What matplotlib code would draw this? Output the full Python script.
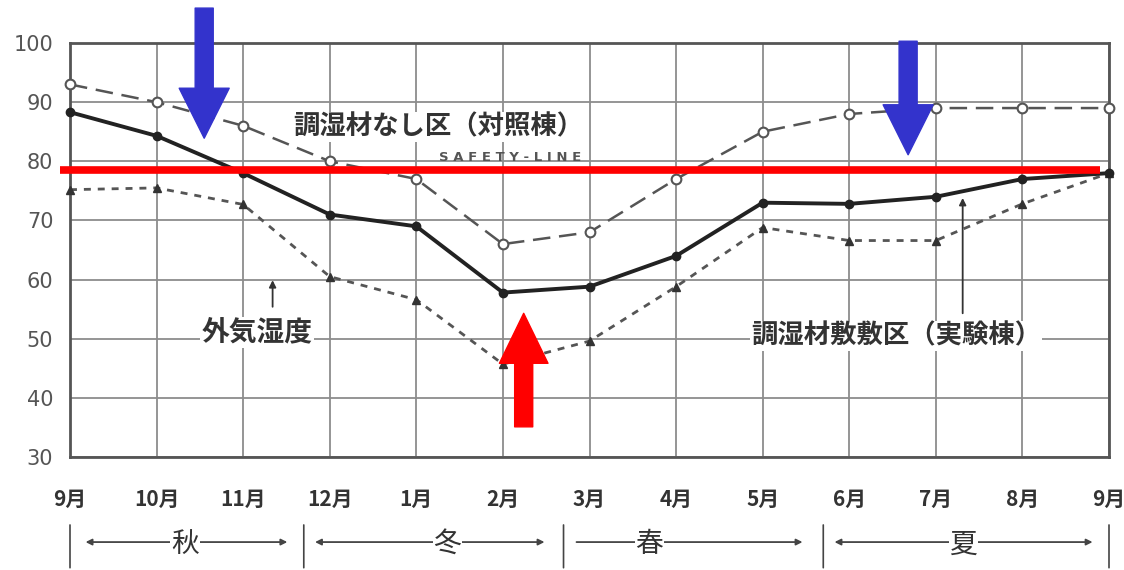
import numpy as np
import matplotlib.pyplot as plt
import matplotlib.transforms as mtransforms

# fuente japonesa primero, DejaVu como respaldo
plt.rcParams['font.family'] = ['Noto Sans CJK JP', 'DejaVu Sans']

# datos (humedad relativa %, de septiembre a septiembre)
meses = ['9月', '10月', '11月', '12月', '1月', '2月', '3月', '4月', '5月', '6月', '7月', '8月', '9月']
control = [93, 90, 86, 80, 77, 66, 68, 77, 85, 88, 89, 89, 89]              # 調湿材なし区（対照棟）
experimento = [88.3, 84.3, 78, 71, 69, 57.8, 58.8, 64, 73, 72.8, 74, 77, 78]  # 調湿材敷敷区（実験棟）
exterior = [75.2, 75.5, 72.7, 60.5, 56.6, 45.7, 49.6, 58.8, 68.8, 66.6, 66.6, 72.8, 78]  # 外気湿度
valores_y = [30, 40, 50, 60, 70, 80, 90, 100]
safety = 78.6
estaciones = ['秋', '冬', '春', '夏']

fig = plt.figure(figsize=(11.24, 5.70), dpi=100)
ax = fig.add_axes([70/1124, 1 - 457/570, (1109 - 70)/1124, (457 - 43)/570])
x = np.arange(len(meses))

ax.set_xlim(0, len(meses) - 1)
ax.set_ylim(valores_y[0], valores_y[-1])
ax.set_xticks(x)
ax.set_xticklabels(meses, fontsize=15, color='#333333', fontweight='bold')
ax.set_yticks(valores_y)
ax.set_yticklabels([str(v) for v in valores_y], fontsize=15, color='#555555',
                   family='DejaVu Sans')
ax.tick_params(axis='both', length=0)
ax.tick_params(axis='x', pad=23)
ax.tick_params(axis='y', pad=12)
ax.grid(True, color='#8c8c8c', lw=1.3)
ax.set_axisbelow(True)
for s in ax.spines.values():
    s.set_color('#555555')
    s.set_linewidth(2)

# las tres curvas
ax.plot(x, control, color='#555555', lw=1.8, ls=(0, (7, 3.5)), marker='o', ms=7,
        mfc='white', mec='#555555', mew=1.5, clip_on=False, zorder=3)
ax.plot(x, experimento, color='#222222', lw=2.8, marker='o', ms=6,
        mfc='#222222', mec='#222222', clip_on=False, zorder=4)
ax.plot(x, exterior, color='#555555', lw=2, ls=(0, (2.5, 2.5)), marker='^', ms=6,
        mfc='#333333', mec='#333333', clip_on=False, zorder=3)

# linea de seguridad
ax.hlines(safety, -0.115, 11.9, color='#ff0000', lw=5.5, clip_on=False, zorder=6)
ax.text(5.08, 80.6, 'S A F E T Y - L I N E', fontsize=9.5, color='#555555',
        ha='center', va='center', fontweight='bold', family='DejaVu Sans', zorder=2)

# etiquetas dentro del grafico
caja = dict(facecolor='white', edgecolor='none', pad=1)
ax.text(4.25, 85.8, '調湿材なし区（対照棟）', fontsize=19, color='#333333', fontweight='bold',
        ha='center', va='center', bbox=caja, zorder=2)
ax.text(2.16, 51.0, '外気湿度', fontsize=20, color='#333333', fontweight='bold',
        ha='center', va='center', bbox=caja, zorder=2)
ax.text(9.54, 50.5, '調湿材敷敷区（実験棟）', fontsize=19, color='#333333', fontweight='bold',
        ha='center', va='center', bbox=caja, zorder=2)

flecha_fina = dict(arrowstyle='-|>', color='#333333', lw=1.3, mutation_scale=10,
                   shrinkA=0, shrinkB=0)
ax.annotate('', xy=(2.34, 59.9), xytext=(2.34, 55.4), arrowprops=flecha_fina)
ax.annotate('', xy=(10.31, 73.8), xytext=(10.31, 54.3), arrowprops=flecha_fina)

# flechas gruesas azules y roja
gruesa = 'simple,head_length=36,head_width=36,tail_width=13'
ax.annotate('', xy=(1.55, 83.9), xytext=(1.55, 105.9), annotation_clip=False,
            arrowprops=dict(arrowstyle=gruesa, mutation_scale=1, color='#3333cc',
                            shrinkA=0, shrinkB=0), zorder=7)
ax.annotate('', xy=(9.68, 81.1), xytext=(9.68, 100.3), annotation_clip=False,
            arrowprops=dict(arrowstyle=gruesa, mutation_scale=1, color='#3333cc',
                            shrinkA=0, shrinkB=0), zorder=7)
ax.annotate('', xy=(5.24, 54.3), xytext=(5.24, 35.1), annotation_clip=False,
            arrowprops=dict(arrowstyle='simple,head_length=36,head_width=35,tail_width=13',
                            mutation_scale=1, color='#ff0000', shrinkA=0, shrinkB=0), zorder=7)

# fila de estaciones debajo de los meses
trans = mtransforms.blended_transform_factory(ax.transData, fig.transFigure)
for b in [0, 2.7, 5.7, 8.7, 12]:
    ax.annotate('', xy=(b, 0.004), xytext=(b, 0.079), xycoords=trans, textcoords=trans,
                annotation_clip=False,
                arrowprops=dict(arrowstyle='-', color='#444444', lw=1.2, shrinkA=0, shrinkB=0))

tramos = [(0.18, 2.51, 1.33, '<|-|>'), (2.83, 5.48, 4.36, '<|-|>'),
          (5.85, 8.46, 6.69, '-|>'), (8.83, 11.81, 10.32, '<|-|>')]
for est, (a, b, c, estilo) in zip(estaciones, tramos):
    ax.annotate('', xy=(b, 0.049), xytext=(a, 0.049), xycoords=trans, textcoords=trans,
                annotation_clip=False,
                arrowprops=dict(arrowstyle=estilo, color='#444444', lw=1.3,
                                mutation_scale=9, shrinkA=0, shrinkB=0))
    ax.text(c, 0.045, est, transform=trans, fontsize=20, color='#333333',
            ha='center', va='center', bbox=dict(facecolor='white', edgecolor='none', pad=0.5),
            zorder=5)

fig.savefig('out.png', dpi=100)
